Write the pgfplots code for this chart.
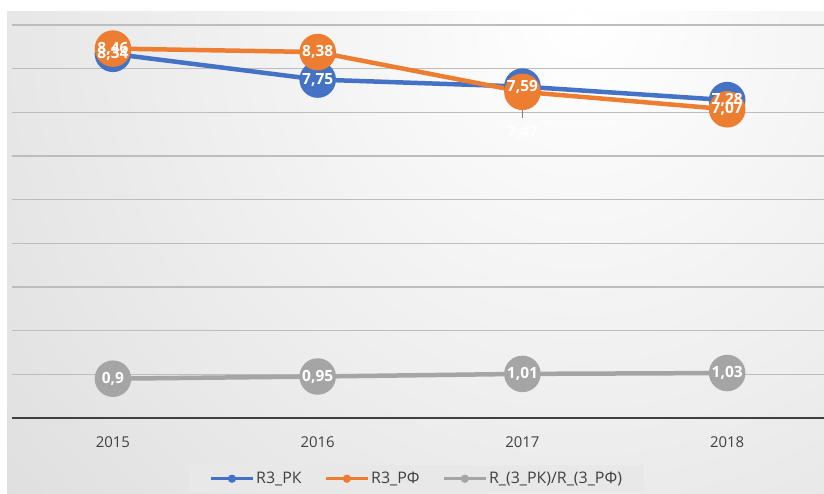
\documentclass[border=0pt]{standalone}
\usepackage{pgfplots}
\pgfplotsset{compat=1.18}
\usepackage{fontspec}
\setmainfont{Open Sans}
\definecolor{sBlue}{HTML}{4472C4}
\definecolor{sOrange}{HTML}{ED7D31}
\definecolor{sGray}{HTML}{A5A5A5}
\definecolor{gridc}{HTML}{BDBDBD}
\definecolor{axc}{HTML}{404040}
\definecolor{txt}{HTML}{404040}
\definecolor{bgout}{HTML}{D2D2D2}
\definecolor{legbg}{HTML}{E8E8E8}
\begin{document}
\begin{tikzpicture}
\useasboundingbox (0,0) rectangle (824bp,494bp);
\begin{scope}
\clip (7bp,0bp) rectangle (824bp,482bp);
\shade[inner color=white, outer color=bgout] (580bp,470bp) circle (1050bp);
\end{scope}
\begin{axis}[
  at={(12bp,76bp)}, anchor=south west,
  scale only axis, width=812bp, height=393bp,
  xmin=-0.493, xmax=3.473, ymin=0, ymax=9,
  axis line style={draw=none},
  xtick={0,1,2,3}, xticklabels={2015,2016,2017,2018},
  ytick={1,2,3,4,5,6,7,8,9}, yticklabels={},
  ymajorgrids, major grid style={gridc, line width=1.3bp},
  major tick length=0pt,
  extra y ticks={0}, extra y tick labels={},
  extra y tick style={grid=major, major grid style={axc, line width=2.6bp}},
  xticklabel style={font=\fontsize{15}{18}\selectfont, text=txt, anchor=center, yshift=-24bp},
  clip=false,
  legend columns=3,
  legend image code/.code={\draw[#1, line width=3.5bp] (0bp,0bp) -- (42bp,0bp); \fill[#1, draw=none] (21bp,0bp) circle (4.2bp);},
  legend style={at={(0.218,-0.1196)}, anchor=north west, fill=legbg, draw=none,
    inner xsep=20bp, inner ysep=5bp, font=\fontsize{16}{19}\selectfont, text=txt,
    nodes={inner xsep=1.5bp},
    /tikz/every even column/.append style={column sep=21bp}},
  legend cell align=left,
  every node near coord/.style={anchor=center, text=white, font=\fontsize{15.5}{18}\selectfont\bfseries},
]
\addplot[sBlue, line width=4.5bp, mark=*, mark size=16bp, mark options={draw=none, fill=sBlue}]
  coordinates {(0,8.34) (1,7.75) (2,7.59) (3,7.28)};
\addlegendentry{R3\_РК}
\addplot[sOrange, line width=4.5bp, mark=*, mark size=16bp, mark options={draw=none, fill=sOrange}]
  coordinates {(0,8.46) (1,8.38) (2,7.47) (3,7.07)};
\addlegendentry{R3\_РФ}
\addplot[sGray, line width=4.5bp, mark=*, mark size=16bp, mark options={draw=none, fill=sGray}]
  coordinates {(0,0.90) (1,0.95) (2,1.01) (3,1.03)};
\addlegendentry{R\_(3\_РК)/R\_(3\_РФ)}
% data labels
\addplot[forget plot, draw=none, mark=none, nodes near coords, point meta=explicit symbolic]
  coordinates {(0,8.34) [8,34] (1,7.75) [7,75] (2,7.59) [7,59] (3,7.28) [7,28]};
\addplot[forget plot, draw=none, mark=none, nodes near coords, point meta=explicit symbolic]
  coordinates {(0,8.46) [8,46] (1,8.38) [8,38] (3,7.07) [7,07]};
\addplot[forget plot, draw=none, mark=none, nodes near coords, point meta=explicit symbolic,
  every node near coord/.append style={yshift=-41bp}]
  coordinates {(2,7.47) [7,47]};
\draw[gray, line width=0.8bp] ([yshift=-2bp]axis cs:2,7.47) -- ([yshift=-26bp]axis cs:2,7.47);
\addplot[forget plot, draw=none, mark=none, nodes near coords, point meta=explicit symbolic]
  coordinates {(0,0.90) [0,9] (1,0.95) [0,95] (2,1.01) [1,01] (3,1.03) [1,03]};
\end{axis}
\end{tikzpicture}
\end{document}
